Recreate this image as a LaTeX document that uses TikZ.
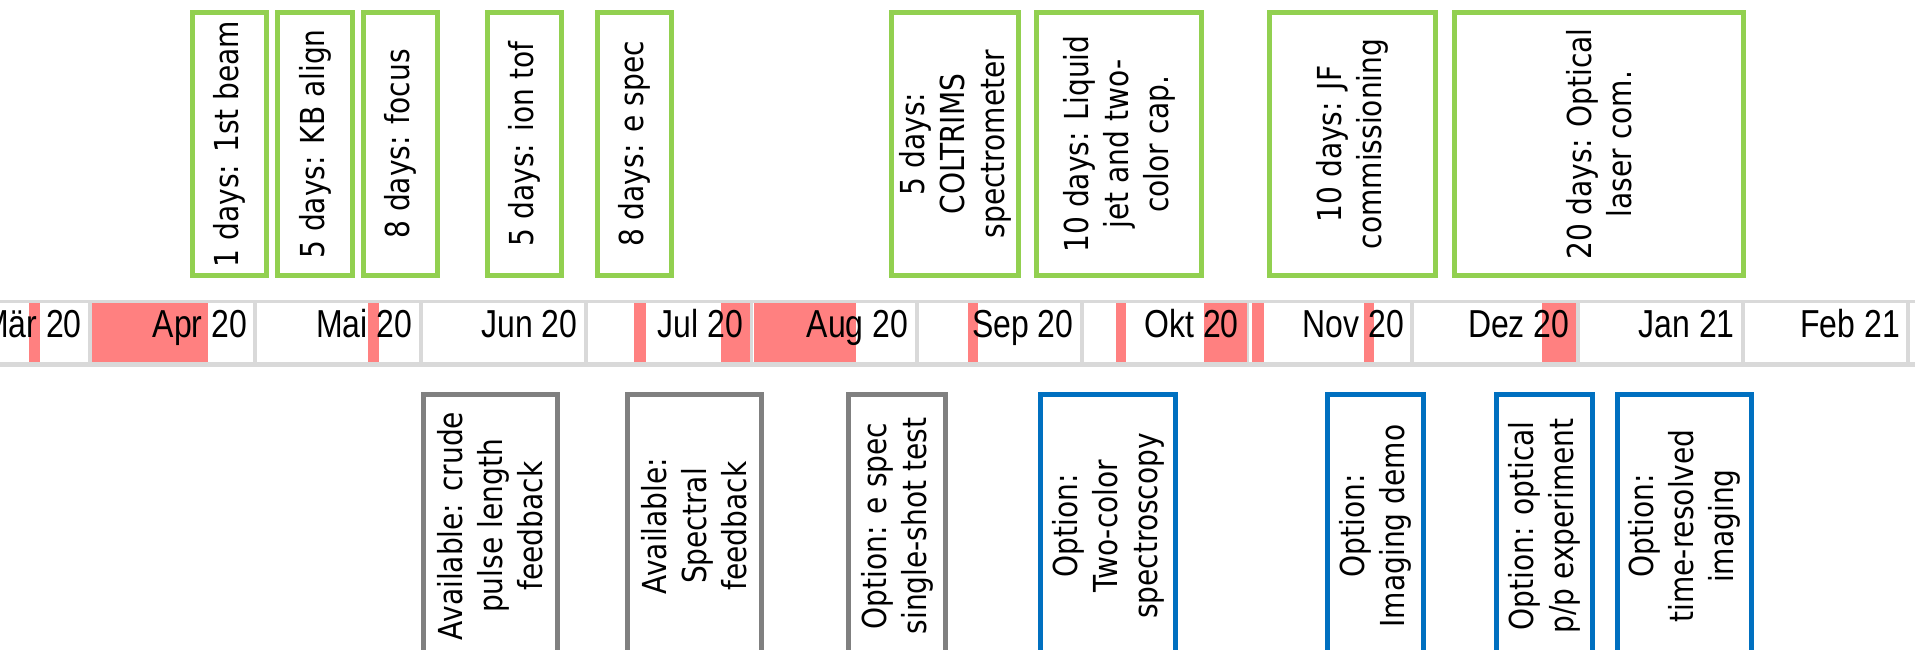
\documentclass[tikz,border=0pt]{standalone}
\usepackage{fontspec}
\newfontfamily\boxfont[FakeStretch=0.85]{DejaVu Sans}
\newfontfamily\monthfont[FakeStretch=0.82]{Liberation Sans}
\usepackage{tikz}

\definecolor{taskgreen}{HTML}{92D050}
\definecolor{availgray}{HTML}{808080}
\definecolor{optblue}{HTML}{0070C0}
\definecolor{barpink}{HTML}{FF8080}
\definecolor{bargray}{HTML}{D9D9D9}

\tikzset{
  box/.style={draw, line width=0.1cm, rotate=90, align=center, inner sep=2pt,
    minimum width=5.26cm, font=\boxfont\fontsize{18.8}{22.8}\selectfont},
  task/.style={box, draw=taskgreen},
  avail/.style={box, draw=availgray},
  option/.style={box, draw=optblue},
  month/.style={inner sep=0pt, anchor=base east, font=\monthfont\fontsize{22.2}{26}\selectfont}
}

\begin{document}
\begin{tikzpicture}[x=0.02cm, y=-0.02cm]
\clip (0,0) rectangle (1915,649);
% month bar
\fill[bargray] (0,300) rectangle (1915,367);
\foreach \i in {0,...,12}
  \fill[white] ({90+165.3*\i-163.3},303) rectangle ({90+165.3*\i-2},362);
\foreach \a/\b in {29/40, 92/208, 368/379, 634/646, 721/750, 754/856, 968/978,
    1116/1126, 1204/1247, 1252/1264, 1364/1374, 1542/1576}
  \fill[barpink] (\a,303) rectangle (\b,362);
\foreach \m [count=\i from 0] in {Mär 20, Apr 20, Mai 20, Jun 20, Jul 20, Aug 20,
    Sep 20, Okt 20, Nov 20, Dez 20, Jan 21, Feb 21}
  \node[month] (m\i) at ({90+165.3*\i-8},337) {\m};

% beamtime blocks
\node[task, minimum height=1.48cm] (firstbeam) at (229.5,144) {1 days: 1st beam};
\node[task, minimum height=1.50cm] (kbalign) at (315,144) {5 days: KB align};
\node[task, minimum height=1.48cm] (focus) at (400.5,144) {8 days: focus};
\node[task, minimum height=1.48cm] (iontof) at (524.5,144) {5 days: ion tof};
\node[task, minimum height=1.48cm] (espec) at (634.5,144) {8 days: e spec};
\node[task, minimum height=2.54cm] (coltrims) at (955,144) {5 days:\\COLTRIMS\\spectrometer};
\node[task, minimum height=3.30cm] (liquid) at (1119,144) {10 days: Liquid\\jet and two-\\color cap.};
\node[task, minimum height=3.32cm] (jf) at (1352.5,144) {10 days: JF\\commissioning};
\node[task, minimum height=5.78cm] (laser) at (1599,144) {20 days: Optical\\laser com.};

% what comes out of it
\node[avail, minimum height=2.68cm] (pulselen) at (490.5,526) {Available: crude\\pulse length\\feedback};
\node[avail, minimum height=2.68cm] (spectral) at (694.5,526) {Available:\\Spectral\\feedback};
\node[avail, minimum height=1.94cm] (singleshot) at (897,526) {Option: e spec\\single-shot test};
\node[option, minimum height=2.70cm] (twocolor) at (1108,526) {Option:\\Two-color\\spectroscopy};
\node[option, minimum height=1.92cm] (imaging) at (1375.5,526) {Option:\\Imaging demo};
\node[option, minimum height=1.92cm] (pump) at (1544.5,526) {Option: optical\\p/p experiment};
\node[option, minimum height=2.68cm] (timeres) at (1684.5,526) {Option:\\time-resolved\\imaging};
\end{tikzpicture}
\end{document}
